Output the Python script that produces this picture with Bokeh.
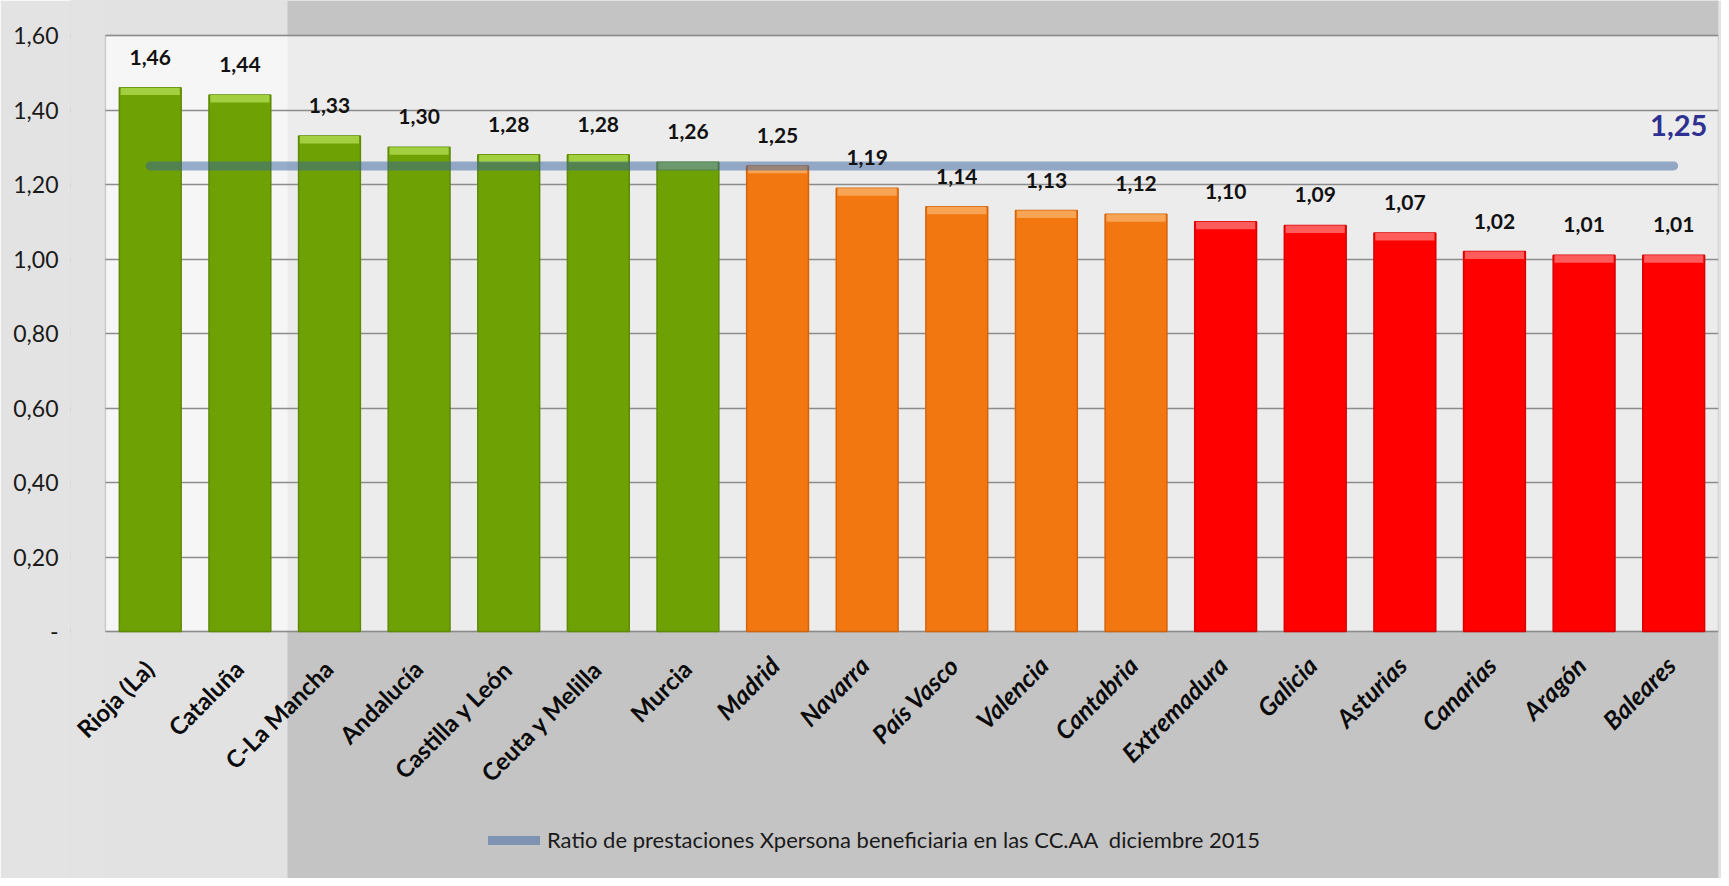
import math
from bokeh.plotting import figure
from bokeh.models import (ColumnDataSource, Legend, LegendItem, FixedTicker,
                          CustomJSTickFormatter, Range1d, BoxAnnotation)
from bokeh.core.properties import value
from bokeh.embed import file_html
from bokeh.resources import INLINE

# ---- data ----
categories = ["Rioja (La)", "Cataluña", "C-La Mancha", "Andalucía", "Castilla y León",
              "Ceuta y Melilla", "Murcia", "Madrid", "Navarra", "País Vasco", "Valencia",
              "Cantabria", "Extremadura", "Galicia", "Asturias", "Canarias", "Aragón", "Baleares"]
values = [1.46, 1.44, 1.33, 1.30, 1.28, 1.28, 1.26, 1.25, 1.19, 1.14, 1.13, 1.12,
          1.10, 1.09, 1.07, 1.02, 1.01, 1.01]
tiers = ["alto", "alto", "alto", "alto", "alto", "alto", "alto",
         "medio", "medio", "medio", "medio", "medio",
         "bajo", "bajo", "bajo", "bajo", "bajo", "bajo"]
average = 1.25
average_label = "1,25"
y_ticks = [0, 0.2, 0.4, 0.6, 0.8, 1.0, 1.2, 1.4, 1.6]
legend_label = "Ratio de prestaciones Xpersona beneficiaria en las CC.AA  diciembre 2015"

# ---- styles ----
tier_fill = {"alto": "#6EA204", "medio": "#F27711", "bajo": "#FE0000"}
tier_edge = {"alto": "#5E8A06", "medio": "#D2640C", "bajo": "#D80000"}
tier_top = {"alto": "#A2D040", "medio": "#F8A455", "bajo": "#FF5C5C"}
FONT = "Lato"

n = len(categories)
x_pos = list(range(n))                      # category slots on the x scale
x_lo, x_hi = x_pos[0] - 0.5, x_pos[-1] + 0.5  # edges of the plot area
labels = [f"{v:.2f}".replace(".", ",") for v in values]
top_h = 0.02
src = ColumnDataSource(dict(
    x=x_pos, cat=categories, val=values, lab=labels,
    fill=[tier_fill[t] for t in tiers],
    edge=[tier_edge[t] for t in tiers],
    topc=[tier_top[t] for t in tiers],
    strip_bottom=[v - top_h for v in values],
))

W, H = 1721, 878
p = figure(width=W, height=H, x_range=Range1d(x_lo - 0.39, x_hi),
           y_range=Range1d(-0.663, 1.694),
           output_backend="svg", toolbar_location=None,
           min_border_left=70, min_border_right=3, min_border_top=0, min_border_bottom=0)
p.border_fill_color = "#E3E3E3"
p.background_fill_color = "#C4C4C4"
p.outline_line_color = None

# plot area panel, whitish left band
p.add_layout(BoxAnnotation(left=x_lo, right=x_hi, bottom=0, top=1.6, fill_color="#ECECEC",
                           fill_alpha=1.0, line_color=None, level="image"))
p.add_layout(BoxAnnotation(right=217, right_units="screen",
                           fill_color="#FFFFFF", fill_alpha=0.5, line_color=None, level="image"))

p.ygrid.ticker = FixedTicker(ticks=y_ticks)
p.ygrid.grid_line_color = "#8C8C8C"
p.ygrid.grid_line_width = 1.5
p.xgrid.grid_line_color = None

# strip left of the plot area (room for the first rotated label), then outline
p.add_layout(BoxAnnotation(right=x_lo, fill_color="#E3E3E3", fill_alpha=1.0,
                           line_color=None, level="underlay"))
p.add_layout(BoxAnnotation(left=x_lo, right=x_hi, bottom=0, top=1.6, fill_alpha=0,
                           line_color="#8C8C8C", line_width=1.5, level="underlay"))

p.yaxis.ticker = FixedTicker(ticks=y_ticks)
p.yaxis.formatter = CustomJSTickFormatter(
    code="return tick < 0.001 ? '-' : tick.toFixed(2).replace('.', ',');")
p.yaxis.axis_line_color = None
p.yaxis.major_tick_line_color = None
p.yaxis.minor_tick_line_color = None
p.yaxis.major_label_standoff = 6
p.yaxis.major_label_text_font = FONT
p.yaxis.major_label_text_font_size = "23px"
p.yaxis.major_label_text_color = "#1A1A1A"
p.xaxis.visible = False

p.vbar(x="x", top="val", width=0.69, source=src, fill_color="fill",
       line_color="edge", line_width=1.5)
p.vbar(x="x", top="val", bottom="strip_bottom", width=0.66, source=src,
       fill_color="topc", line_color=None)

avg_line = p.line(x=x_pos, y=[average] * n, line_color="#38629E",
                  line_alpha=0.5, line_width=9, line_cap="round")

p.text(x="x", y="val", text="lab", source=src, text_align="center",
       text_baseline="bottom", y_offset=-23, text_font=value(FONT),
       text_font_style="bold", text_font_size="21px", text_color="#111111")

p.text(x=[x_pos[-1]], y=[average], text=[average_label], text_align="center",
       text_baseline="middle", x_offset=5, y_offset=-40, text_font=value(FONT),
       text_font_style="bold", text_font_size="29px", text_color="#2E3192")

# category labels (first group upright bold, others bold italic)
n_up = tiers.count("alto")
groups = ((x_pos[:n_up], categories[:n_up], "bold", "24px", -1, 33),
          (x_pos[n_up:], categories[n_up:], "bold italic", "25px", -3, 29))
for xs, cats, style, size, xo, yo in groups:
    p.text(x=xs, y=[0] * len(cats), text=cats, angle=math.pi / 4,
           text_align="right", text_baseline="middle", x_offset=xo, y_offset=yo,
           text_font=value(FONT), text_font_style=style, text_font_size=size,
           text_color="#0A0A0A")

legend = Legend(items=[LegendItem(label=legend_label, renderers=[avg_line])],
                location=(418, 25), padding=0, margin=0, label_standoff=7,
                glyph_width=52, background_fill_alpha=0, border_line_color=None,
                label_text_font=FONT, label_text_font_size="22px",
                label_text_color="#1A1A1A")
p.add_layout(legend, "center")

open("out.html", "w").write(file_html(p, INLINE))
